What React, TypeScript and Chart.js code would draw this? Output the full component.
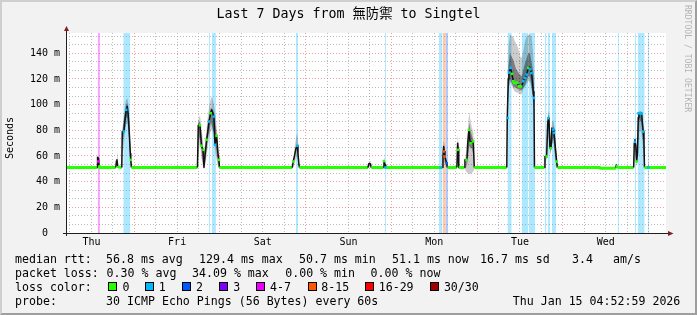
import React, { useEffect, useRef } from "react";
import { Chart, registerables } from "chart.js";

Chart.register(...registerables);

const MONO = '"DejaVu Sans Mono", "Noto Sans CJK TC", monospace';

// ---------- data ----------
// x values: hours since Thu 00:00 (7-day window ending Thu Jan 15 04:52:59)
const X_MIN = 4.883;
const X_MAX = 172.883;
const Y_MAX = 155.8; // ms

const dayLabels = ["Thu", "Fri", "Sat", "Sun", "Mon", "Tue", "Wed"];
const yMajorTicks = [0, 20, 40, 60, 80, 100, 120, 140];
const yTickLabels = ["0  ", "20 m", "40 m", "60 m", "80 m", "100 m", "120 m", "140 m"];

const lossColors = ["#26ff00", "#00b8ff", "#0059ff", "#7e00ff", "#ee00ff", "#ff5700", "#ff0000", "#a10000"];
const lossLabels = ["0", "1", "2", "3", "4-7", "8-15", "16-29", "30/30"];

// median rtt [hour, ms]
const medianRtt: [number, number][] = [
  [4.883, 51], [13.64, 51], [13.72, 59], [14.0, 58], [14.17, 52], [14.28, 51],
  [18.82, 51], [19.01, 56], [19.15, 57], [19.38, 52], [19.52, 51.5], [20.5, 51],
  [20.64, 79], [21.11, 79], [21.39, 88], [21.76, 96], [22.04, 98.5], [22.32, 92],
  [22.6, 78], [22.88, 62], [23.02, 57], [23.21, 51],
  [41.69, 51], [41.92, 84], [42.39, 84], [42.81, 68], [43.23, 65], [43.51, 51],
  [43.79, 60], [44.27, 72.6], [44.63, 80], [44.91, 86.8], [45.39, 93.3], [45.67, 96],
  [46.03, 93], [46.31, 90.7], [46.59, 68.7], [47.07, 75.7], [47.43, 62], [47.71, 57], [47.85, 51],
  [68.24, 51], [68.52, 55.7], [68.85, 60], [69.27, 66], [69.64, 68], [69.83, 62], [70.11, 53], [70.25, 51],
  [89.43, 51], [89.66, 54], [90.13, 54], [90.36, 51],
  [93.72, 51], [93.91, 56], [94.28, 53], [94.42, 51],
  [110.24, 51], [110.43, 60], [110.63, 67.4], [110.8, 63.5], [110.99, 59.6], [111.27, 56],
  [111.47, 54.4], [111.69, 51],
  [114.33, 51], [114.55, 70], [114.72, 64.8], [114.86, 51],
  [116.4, 51], [116.59, 57], [117.15, 57], [117.38, 70], [117.71, 80.3], [117.99, 72],
  [118.19, 70], [118.55, 71], [118.92, 71.3], [119.2, 51],
  [128.3, 51], [128.44, 89.6], [128.72, 120], [128.91, 125], [129.39, 128.6], [129.75, 124],
  [130.12, 118.2], [130.59, 116.9], [131.15, 116.9], [131.71, 114.3], [132.47, 114.3],
  [132.92, 118.2], [133.39, 120.8], [133.87, 123.4], [134.32, 128.6], [134.65, 129.4],
  [134.93, 127], [135.27, 124], [135.49, 118], [135.72, 110], [135.91, 105.2], [136.05, 51],
  [138.8, 51], [138.99, 59.6], [139.47, 59.6], [139.75, 85], [139.92, 89.4], [140.11, 88],
  [140.39, 66], [140.67, 66], [140.95, 81.7], [141.32, 80.5], [141.51, 78], [141.79, 70],
  [142.27, 55.7], [142.49, 51],
  [154.39, 51], [154.5, 50.4], [158.6, 50.4], [158.73, 51], [159.01, 53], [159.29, 51],
  [163.83, 51], [164.0, 70], [164.19, 72.6], [164.42, 68], [164.67, 55.7], [164.89, 62],
  [165.12, 90], [165.31, 93.3], [166.07, 93.3], [166.29, 85], [166.52, 79], [166.71, 72],
  [166.85, 51], [172.883, 51],
];

// loss-coloured median samples [hour, ms, loss level]
const lossDots: [number, number, number][] = [
  [13.92, 55.7, 4], [21.11, 79, 1], [21.76, 96, 1], [23.02, 57, 0],
  [42.39, 84, 0], [42.81, 68, 0], [43.37, 64.8, 0], [44.27, 72.6, 0], [44.91, 86.8, 1],
  [45.39, 93.3, 0], [46.31, 90.7, 1], [46.59, 68.7, 1], [47.07, 75.7, 0], [47.71, 57, 0],
  [68.52, 55.7, 0], [69.64, 68, 1], [93.91, 56, 0], [94.33, 51, 1],
  [109.79, 51, 1], [110.66, 63.5, 5], [110.88, 59.6, 5], [111.47, 54.4, 2],
  [114.72, 64.8, 0], [117.01, 57, 0], [117.71, 80.3, 0], [118.19, 70, 0], [118.92, 71.3, 0],
  [128.53, 89.6, 1], [128.91, 125, 1], [129.39, 128.6, 1], [129.75, 124, 0], [130.12, 118.2, 0],
  [130.4, 116.9, 0], [130.68, 116.9, 0], [130.96, 116.9, 0], [131.24, 116.9, 0],
  [131.71, 114.3, 0], [131.99, 114.3, 0], [132.27, 114.3, 0],
  [132.92, 118.2, 1], [133.39, 120.8, 1], [133.87, 123.4, 1], [134.32, 128.6, 0],
  [134.79, 127.5, 1], [135.21, 124.5, 1], [135.91, 105.2, 1],
  [139.47, 59.6, 0], [139.92, 89.4, 1], [140.59, 66, 0], [141.32, 80.5, 1], [141.51, 78, 1],
  [142.27, 55.7, 0], [159.15, 52, 0],
  [164.19, 71, 1], [164.67, 55.7, 0], [165.17, 93.3, 1], [165.59, 93.3, 1], [166.07, 93, 1],
  [166.52, 79, 1], [167.92, 51, 1],
];

// packet-loss periods [start hour, end hour, loss level]
const lossBands: [number, number, number][] = [
  [13.75, 14.39, 4], [20.92, 22.88, 1], [44.91, 45.19, 1], [45.67, 46.87, 1],
  [69.27, 69.83, 1], [94.19, 94.47, 1], [109.31, 110.29, 1], [110.35, 111.27, 5],
  [111.27, 111.83, 2], [128.49, 129.67, 1], [132.47, 134.32, 1], [134.51, 136.19, 1],
  [138.99, 139.41, 1], [139.75, 140.39, 1], [140.95, 142.07, 1], [159.35, 159.71, 1],
  [164.19, 164.47, 1], [164.95, 166.91, 1], [167.75, 168.11, 1],
];

// smoke (ping spread) [hour, low ms, high ms]
const smokeOuter: [number, number, number][][] = [
  [[13.6, 51, 51], [13.72, 52, 60], [14.0, 52, 59], [14.28, 51, 51]],
  [[18.96, 51, 51], [19.15, 51, 64.8], [19.38, 51, 58], [19.57, 51, 51]],
  [[20.55, 51, 51], [20.69, 60, 82], [21.11, 70, 92], [21.39, 78, 100], [21.76, 85, 104],
   [22.09, 85, 105], [22.37, 80, 100], [22.65, 65, 88], [22.88, 55, 72], [23.07, 51, 60], [23.27, 51, 51]],
  [[41.69, 51, 51], [41.92, 60, 88], [42.39, 70, 92], [42.81, 58, 82], [43.23, 52, 72],
   [43.51, 51, 60], [43.79, 52, 70], [44.27, 60, 82], [44.63, 68, 92], [45.05, 75, 100],
   [45.47, 80, 106], [45.89, 80, 105], [46.31, 72, 100], [46.73, 62, 92], [47.15, 55, 80],
   [47.57, 51, 65], [47.85, 51, 51]],
  [[68.43, 51, 51], [68.85, 54, 66], [69.27, 58, 74], [69.64, 60, 78], [69.97, 53, 68], [70.25, 51, 51]],
  [[89.43, 51, 51], [89.71, 51, 56], [90.13, 51, 56], [90.36, 51, 51]],
  [[93.72, 51, 51], [93.91, 51, 61], [94.19, 51, 56], [94.42, 51, 51]],
  [[110.29, 51, 51], [110.57, 55, 72], [110.85, 55, 70], [111.27, 51, 60], [111.69, 51, 51]],
  [[114.35, 51, 51], [114.55, 55, 76.5], [114.77, 53, 70], [114.91, 51, 51]],
  [[116.45, 51, 51], [116.87, 48, 62], [117.29, 47, 78], [117.8, 46, 94.6], [118.13, 46, 88],
   [118.55, 47, 82], [118.97, 48, 78], [119.25, 51, 51]],
  [[128.35, 51, 51], [128.44, 85, 95], [128.77, 112, 145], [129.19, 118, 154.5], [130.12, 112, 153],
   [130.59, 110, 149.3], [131.52, 109, 144], [131.99, 108, 137.7], [132.47, 108, 136.3],
   [132.92, 112, 141.5], [133.39, 114, 149.3], [133.87, 116, 153], [134.32, 118, 154.5],
   [134.79, 118, 154.5], [135.27, 112, 153], [135.72, 100, 139], [135.99, 95, 120.8], [136.08, 51, 51]],
  [[138.85, 51, 51], [139.13, 55, 63], [139.55, 58, 80], [139.92, 75, 95], [140.25, 70, 92],
   [140.53, 60, 75], [140.95, 70, 86], [141.37, 70, 88], [141.79, 58, 80], [142.27, 51, 60], [142.49, 51, 51]],
  [[158.73, 51, 51], [159.01, 51, 54.5], [159.29, 51, 51]],
  [[163.83, 51, 51], [164.05, 55, 75], [164.33, 60, 74], [164.67, 52, 64], [165.03, 60, 92],
   [165.45, 80, 95], [166.01, 78, 95], [166.43, 65, 88], [166.8, 51, 70], [166.94, 51, 51]],
  [[167.78, 51, 51], [167.92, 51, 56], [168.06, 51, 51]],
];

const smokeCore: [number, number, number][][] = [
  [[20.64, 51, 51], [20.69, 70, 80], [21.39, 82, 94], [21.76, 90, 100], [22.09, 90, 101],
   [22.65, 70, 82], [23.07, 51, 56], [23.21, 51, 51]],
  [[41.8, 51, 51], [41.92, 70, 86], [42.39, 75, 87], [43.23, 55, 66], [43.79, 55, 64],
   [44.63, 74, 85], [45.47, 86, 98], [46.31, 78, 94], [47.15, 60, 74], [47.71, 51, 55], [47.85, 51, 51]],
  [[116.87, 51, 51], [117.29, 55, 70], [117.8, 68, 86], [118.13, 66, 80], [118.55, 66, 76],
   [118.97, 60, 72], [119.2, 51, 51]],
  [[128.35, 51, 51], [128.44, 88, 91], [128.77, 110, 130], [129.19, 120, 140], [130.12, 114, 135],
   [130.87, 113, 128], [131.52, 112, 125], [132.47, 111, 122], [133.39, 115, 132],
   [134.32, 122, 140], [134.79, 122, 140], [135.72, 104, 125], [135.99, 100, 110], [136.05, 51, 51]],
  [[139.6, 60, 60], [139.92, 82, 92], [140.25, 78, 90], [140.53, 62, 70], [141.37, 75, 84],
   [141.79, 62, 74], [142.27, 51, 56], [142.4, 51, 51]],
  [[164.9, 60, 60], [165.03, 70, 90], [165.45, 88, 94], [166.01, 86, 94], [166.43, 72, 84], [166.8, 51, 51]],
];

// legend text
const titleText = "Last 7 Days from 無防禦 to Singtel";
const rttStats = ["56.8 ms avg", "129.4 ms max", "50.7 ms min", "51.1 ms now", "16.7 ms sd", "3.4", "am/s"];
const lossStats = ["0.30 % avg", "34.09 % max", "0.00 % min", "0.00 % now"];
const probeText = "30 ICMP Echo Pings (56 Bytes) every 60s";
const stampText = "Thu Jan 15 04:52:59 2026";

// ---------- layout / style ----------
const rttX = [106, 199, 299, 392, 480, 572, 613];
const lossX = [106.6, 192, 285.2, 370.6];
const swatchX = [108, 145, 182, 219, 256, 307.5, 365, 430];
const swatchLabelX = [122.6, 158.7, 196, 233.2, 270.1, 321.2, 378.7, 443.9];
const rowTop = [252.3, 266.3, 280.3, 294.3];

const GRID_MINOR = "rgba(143,143,143,0.6)";
const GRID_MAJOR = "rgba(222,79,79,0.55)";
const SPIKE_LEVEL = 52.5;

function rgba(hex: string, a: number) {
  const n = parseInt(hex.slice(1), 16);
  return `rgba(${(n >> 16) & 255},${(n >> 8) & 255},${n & 255},${a})`;
}

function smokeSeries(groups: [number, number, number][][], idx: number) {
  const out: { x: number; y: number | null }[] = [];
  groups.forEach((g) => {
    g.forEach((p) => out.push({ x: p[0], y: p[idx] }));
    out.push({ x: g[g.length - 1][0], y: null });
  });
  return out;
}

const axisPlugin = {
  id: "rrdAxes",
  beforeDraw(chart: any) {
    const { ctx, chartArea: a } = chart;
    ctx.save();
    ctx.fillStyle = "#ffffff";
    ctx.fillRect(a.left, a.top, a.right - a.left, a.bottom - a.top);
    ctx.restore();
  },
  afterDraw(chart: any) {
    const { ctx, chartArea: a } = chart;
    const bx = Math.round(a.left) + 0.5;
    const by = Math.round(a.bottom) + 0.5;
    ctx.save();
    ctx.strokeStyle = "#1f1f1f";
    ctx.lineWidth = 1;
    ctx.beginPath();
    ctx.moveTo(a.left - 3, by);
    ctx.lineTo(a.right + 3, by);
    ctx.moveTo(bx, a.bottom + 3);
    ctx.lineTo(bx, a.top - 3);
    ctx.stroke();
    ctx.fillStyle = "#7f1f1f";
    ctx.beginPath();
    ctx.moveTo(a.right + 2, by - 2.5);
    ctx.lineTo(a.right + 7.5, by);
    ctx.lineTo(a.right + 2, by + 2.5);
    ctx.closePath();
    ctx.fill();
    ctx.beginPath();
    ctx.moveTo(bx - 2.5, a.top - 2);
    ctx.lineTo(bx, a.top - 7);
    ctx.lineTo(bx + 2.5, a.top - 2);
    ctx.closePath();
    ctx.fill();
    ctx.restore();
  },
};

function buildConfig() {
  const xGridHours: number[] = [];
  dayLabels.forEach((_, d) => {
    for (let q = 1; q <= 4; q++) xGridHours.push(d * 24 + q * 6);
  });
  const yTicks: { value: number; major: boolean }[] = [];
  yMajorTicks.forEach((m) => {
    for (let j = 0; j < 3; j++) {
      const v = m + (j * 20) / 3;
      if (v <= Y_MAX) yTicks.push({ value: v, major: j === 0 });
    }
  });

  const datasets: any[] = [];
  // 0 loss dots
  datasets.push({
    type: "line",
    data: lossDots.map((d) => ({ x: d[0], y: d[1] })),
    showLine: false,
    pointStyle: "rect",
    pointRadius: 1.8,
    pointBorderWidth: 0,
    pointBackgroundColor: lossDots.map((d) => lossColors[d[2]]),
    order: 0,
  });
  // 1 median
  datasets.push({
    type: "line",
    data: medianRtt.map((d) => ({ x: d[0], y: d[1] })),
    borderColor: "#000",
    borderWidth: 1.5,
    pointRadius: 0,
    borderJoinStyle: "round",
    segment: {
      borderColor: (c: any) => (Math.max(c.p0.parsed.y, c.p1.parsed.y) > SPIKE_LEVEL ? "#111111" : lossColors[0]),
      borderWidth: (c: any) => (Math.max(c.p0.parsed.y, c.p1.parsed.y) > SPIKE_LEVEL ? 1.5 : 3),
    },
    order: 1,
  });
  // 2,3 core smoke
  datasets.push({ type: "line", data: smokeSeries(smokeCore, 1), borderWidth: 0, pointRadius: 0, spanGaps: false, order: 3 });
  datasets.push({
    type: "line", data: smokeSeries(smokeCore, 2), borderWidth: 0, pointRadius: 0, spanGaps: false,
    fill: 2, backgroundColor: "rgba(0,0,0,0.38)", order: 2,
  });
  // 4,5 outer smoke
  datasets.push({ type: "line", data: smokeSeries(smokeOuter, 1), borderWidth: 0, pointRadius: 0, spanGaps: false, order: 5 });
  datasets.push({
    type: "line", data: smokeSeries(smokeOuter, 2), borderWidth: 0, pointRadius: 0, spanGaps: false,
    fill: 4, backgroundColor: "rgba(0,0,0,0.2)", order: 4,
  });
  // loss bands
  const levels = Array.from(new Set(lossBands.map((b) => b[2])));
  levels.forEach((lv) => {
    const pts: { x: number; y: number | null }[] = [];
    lossBands.filter((b) => b[2] === lv).forEach((b) => {
      pts.push({ x: b[0], y: Y_MAX }, { x: b[1], y: Y_MAX }, { x: b[1], y: null });
    });
    datasets.push({
      type: "line", data: pts, borderWidth: 0, pointRadius: 0, spanGaps: false,
      fill: "origin", backgroundColor: rgba(lossColors[lv], lv === 4 ? 0.36 : 0.32), order: 6,
    });
  });

  return {
    type: "line",
    data: { datasets },
    plugins: [axisPlugin],
    options: {
      animation: false,
      responsive: false,
      devicePixelRatio: 1,
      events: [],
      layout: { padding: { left: 0, top: 33, right: 31, bottom: 0 } },
      plugins: { legend: { display: false }, tooltip: { enabled: false }, title: { display: false } },
      scales: {
        x: {
          type: "linear",
          min: X_MIN,
          max: X_MAX,
          afterBuildTicks: (s: any) => { s.ticks = xGridHours.map((v) => ({ value: v })); },
          afterFit: (s: any) => { s.height = 82; },
          grid: {
            color: (c: any) => (c.tick && c.tick.value % 24 === 0 ? GRID_MAJOR : GRID_MINOR),
            lineWidth: 1,
            drawTicks: false,
          },
          border: { display: false, dash: [1, 2] },
          ticks: {
            autoSkip: false,
            maxRotation: 0,
            padding: 3,
            color: "#000",
            font: { family: MONO, size: 10 },
            callback: (v: number) => (v % 24 === 12 ? dayLabels[(v - 12) / 24] : ""),
          },
        },
        y: {
          type: "linear",
          min: 0,
          max: Y_MAX,
          afterBuildTicks: (s: any) => { s.ticks = yTicks.map((t) => ({ value: t.value })); },
          afterFit: (s: any) => { s.width = 66; },
          grid: {
            color: (c: any) => {
              const v = c.tick ? c.tick.value : -1;
              return yMajorTicks.indexOf(v) > 0 ? GRID_MAJOR : GRID_MINOR;
            },
            lineWidth: 1,
            drawTicks: false,
          },
          border: { display: false, dash: [1, 2] },
          ticks: {
            autoSkip: false,
            padding: 6,
            color: "#000",
            font: { family: MONO, size: 10 },
            callback: (v: number) => {
              const i = yMajorTicks.indexOf(v);
              return i >= 0 ? yTickLabels[i] : "";
            },
          },
        },
      },
    },
  };
}

function Txt(props: { x: number; y: number; size: number; lh: number; children: any; color?: string }) {
  return (
    <div
      style={{
        position: "absolute",
        left: props.x,
        top: props.y,
        fontSize: props.size,
        lineHeight: props.lh + "px",
        whiteSpace: "pre",
        color: props.color || "#000",
        fontFamily: MONO,
      }}
    >
      {props.children}
    </div>
  );
}

export default function App() {
  const ref = useRef<HTMLCanvasElement>(null);
  useEffect(() => {
    const chart = new Chart(ref.current as HTMLCanvasElement, buildConfig() as any);
    return () => chart.destroy();
  }, []);

  const LS = 11.6;
  const LH = 14;
  return (
    <div
      style={{
        position: "absolute",
        left: 0,
        top: 0,
        width: 697,
        height: 315,
        background: "#f2f2f2",
        overflow: "hidden",
        fontFamily: MONO,
      }}
    >
      <canvas ref={ref} width={697} height={315} style={{ position: "absolute", left: 0, top: 0, width: 697, height: 315 }} />

      <div
        style={{
          position: "absolute", left: 0, top: 6.1, width: 697, textAlign: "center",
          fontSize: 13.3, lineHeight: "16px", whiteSpace: "pre", color: "#000", fontFamily: MONO,
        }}
      >
        {titleText}
      </div>

      <div
        style={{
          position: "absolute", left: 5, top: 116.5, height: 42, fontSize: 10, lineHeight: "10px",
          writingMode: "vertical-rl", transform: "rotate(180deg)", whiteSpace: "pre", color: "#000", fontFamily: MONO,
        }}
      >
        Seconds
      </div>

      <div
        style={{
          position: "absolute", left: 682.5, top: 5, fontSize: 8.1, lineHeight: "9px",
          writingMode: "vertical-rl", whiteSpace: "pre", color: "#b4b4b4", fontFamily: MONO,
        }}
      >
        RRDTOOL / TOBI OETIKER
      </div>

      <Txt x={15} y={rowTop[0]} size={LS} lh={LH}>median rtt:</Txt>
      {rttStats.map((s, i) => (
        <Txt key={"r" + i} x={rttX[i]} y={rowTop[0]} size={LS} lh={LH}>{s}</Txt>
      ))}

      <Txt x={15} y={rowTop[1]} size={LS} lh={LH}>packet loss:</Txt>
      {lossStats.map((s, i) => (
        <Txt key={"l" + i} x={lossX[i]} y={rowTop[1]} size={LS} lh={LH}>{s}</Txt>
      ))}

      <Txt x={15} y={rowTop[2]} size={LS} lh={LH}>loss color:</Txt>
      {lossLabels.map((s, i) => (
        <React.Fragment key={"c" + i}>
          <div
            style={{
              position: "absolute", left: swatchX[i], top: 282, width: 9, height: 9,
              boxSizing: "border-box", border: "1px solid #000", background: lossColors[i],
            }}
          />
          <Txt x={swatchLabelX[i]} y={rowTop[2]} size={LS} lh={LH}>{s}</Txt>
        </React.Fragment>
      ))}

      <Txt x={15} y={rowTop[3]} size={LS} lh={LH}>probe:</Txt>
      <Txt x={106.1} y={rowTop[3]} size={LS} lh={LH}>{probeText}</Txt>
      <Txt x={512.8} y={rowTop[3]} size={LS} lh={LH}>{stampText}</Txt>

      <div
        style={{
          position: "absolute", left: 0, top: 0, width: 697, height: 315, boxSizing: "border-box",
          borderStyle: "solid", borderWidth: 2, borderColor: "#cfcfcf #9e9e9e #9e9e9e #cfcfcf", pointerEvents: "none",
        }}
      />
    </div>
  );
}
